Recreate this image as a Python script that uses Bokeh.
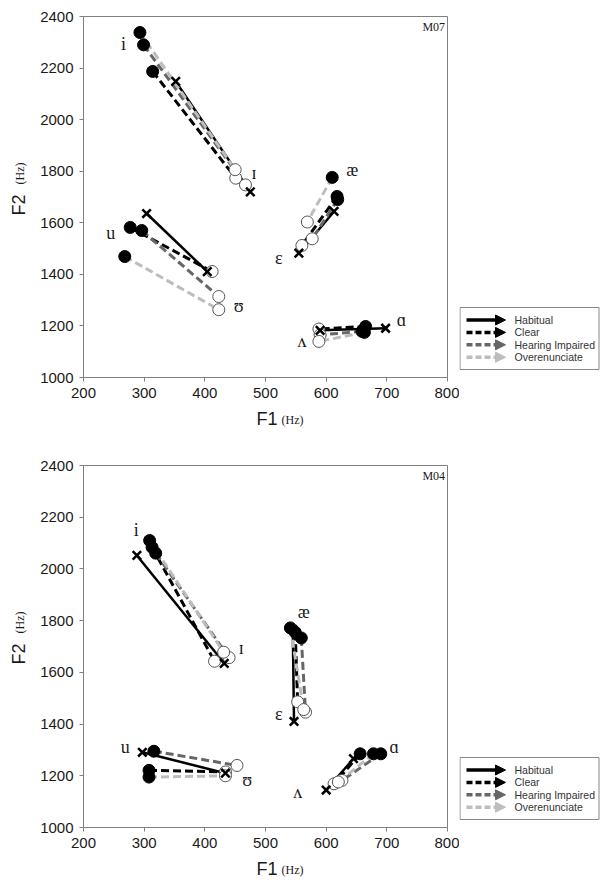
import math
from bokeh.plotting import figure
from bokeh.layouts import column, row
from bokeh.models import Range1d, Label, Arrow, NormalHead, FixedTicker
from bokeh.embed import file_html
from bokeh.resources import INLINE
from bokeh.core.properties import value

# ---------------- data ----------------
x_ticks = [200, 300, 400, 500, 600, 700, 800]
y_ticks = [1000, 1200, 1400, 1600, 1800, 2000, 2200, 2400]
conditions = ["Habitual", "Clear", "Hearing Impaired", "Overenunciate"]
vowel_text = ["i", "ɪ", "u", "ʊ", "æ", "ɛ", "ɑ", "ʌ"]
# vowel pairs (tense -> lax): i-ɪ, u-ʊ, æ-ɛ, ɑ-ʌ

# Speaker M07
m07_hab_f1_a = [352, 304, 613, 698]
m07_hab_f2_a = [2148, 1636, 1644, 1191]
m07_hab_f1_b = [475, 404, 555, 590]
m07_hab_f2_b = [1720, 1411, 1482, 1183]
m07_clr_f1_a = [314, 277, 618, 665]
m07_clr_f2_a = [2187, 1582, 1702, 1198]
m07_clr_f1_b = [451, 412, 560, 588]
m07_clr_f2_b = [1773, 1411, 1512, 1188]
m07_hi_f1_a = [299, 296, 619, 659]
m07_hi_f2_a = [2290, 1570, 1690, 1179]
m07_hi_f1_b = [467, 423, 577, 590]
m07_hi_f2_b = [1747, 1314, 1538, 1165]
m07_ov_f1_a = [293, 268, 610, 663]
m07_ov_f2_a = [2338, 1469, 1776, 1175]
m07_ov_f1_b = [450, 423, 569, 588]
m07_ov_f2_b = [1806, 1263, 1603, 1140]
m07_label_f1 = [266, 481, 245, 456, 643, 522, 724, 560]
m07_label_f2 = [2293, 1792, 1560, 1276, 1806, 1463, 1224, 1140]

# Speaker M04
m04_hab_f1_a = [288, 297, 545, 645]
m04_hab_f2_a = [2052, 1291, 1765, 1266]
m04_hab_f1_b = [432, 434, 547, 600]
m04_hab_f2_b = [1635, 1210, 1410, 1145]
m04_clr_f1_a = [313, 308, 549, 656]
m04_clr_f2_a = [2084, 1221, 1755, 1285]
m04_clr_f1_b = [416, 434, 553, 613]
m04_clr_f2_b = [1643, 1215, 1486, 1169]
m04_hi_f1_a = [319, 316, 559, 690]
m04_hi_f2_a = [2061, 1295, 1733, 1285]
m04_hi_f1_b = [440, 453, 566, 626]
m04_hi_f2_b = [1657, 1240, 1446, 1182]
m04_ov_f1_a = [309, 308, 541, 678]
m04_ov_f2_a = [2110, 1195, 1772, 1285]
m04_ov_f1_b = [431, 434, 563, 620]
m04_ov_f2_b = [1678, 1200, 1456, 1176]
m04_label_f1 = [287, 460, 269, 470, 563, 522, 712, 553]
m04_label_f2 = [2149, 1695, 1311, 1182, 1833, 1440, 1311, 1136]

m07 = [
    (m07_hab_f1_a, m07_hab_f2_a, m07_hab_f1_b, m07_hab_f2_b),
    (m07_clr_f1_a, m07_clr_f2_a, m07_clr_f1_b, m07_clr_f2_b),
    (m07_hi_f1_a, m07_hi_f2_a, m07_hi_f1_b, m07_hi_f2_b),
    (m07_ov_f1_a, m07_ov_f2_a, m07_ov_f1_b, m07_ov_f2_b),
]
m04 = [
    (m04_hab_f1_a, m04_hab_f2_a, m04_hab_f1_b, m04_hab_f2_b),
    (m04_clr_f1_a, m04_clr_f2_a, m04_clr_f1_b, m04_clr_f2_b),
    (m04_hi_f1_a, m04_hi_f2_a, m04_hi_f1_b, m04_hi_f2_b),
    (m04_ov_f1_a, m04_ov_f2_a, m04_ov_f1_b, m04_ov_f2_b),
]

# ---------------- styles ----------------
COLORS = ["#000000", "#000000", "#666666", "#bdbdbd"]
DASHES = ["solid", "8 4", "8 4", "8 4"]
SANS = "Liberation Sans"
SERIF = "'Liberation Serif', 'DejaVu Serif', serif"
AXIS_COLOR = "#808080"
TXT = "#1a1a1a"


def blank(w, h, bt=0, bb=0):
    # helper canvas whose data coordinates equal local pixel coordinates
    f = figure(width=w, height=h, title=None, x_axis_type=None, y_axis_type=None,
               x_range=Range1d(0, w), y_range=Range1d(h - bb, bt),
               output_backend="svg", toolbar_location=None,
               min_border_left=0, min_border_right=0,
               min_border_top=bt, min_border_bottom=bb)
    f.grid.visible = False
    f.outline_line_color = None
    f.background_fill_color = "white"
    f.border_fill_color = "white"
    return f


def panel(h, b_top, b_bottom, data, lab_f1, lab_f2, tag):
    p = figure(width=427, height=h, title=None,
               x_range=Range1d(200, 800), y_range=Range1d(1000, 2400),
               output_backend="svg", toolbar_location=None,
               min_border_left=51, min_border_right=12,
               min_border_top=b_top, min_border_bottom=b_bottom)
    p.grid.visible = False
    p.outline_line_color = AXIS_COLOR
    p.background_fill_color = "white"
    p.border_fill_color = "white"
    p.xaxis.ticker = FixedTicker(ticks=x_ticks)
    p.yaxis.ticker = FixedTicker(ticks=y_ticks)
    for ax in (p.xaxis, p.yaxis):
        ax.axis_line_color = AXIS_COLOR
        ax.major_tick_line_color = AXIS_COLOR
        ax.major_tick_out = 4
        ax.major_tick_in = 0
        ax.minor_tick_line_color = None
        ax.major_label_text_font = SANS
        ax.major_label_text_font_size = "15px"
        ax.major_label_text_color = TXT
    p.xaxis.major_label_standoff = 6
    p.yaxis.major_label_standoff = 6

    for i, (xa, ya, xb, yb) in enumerate(data):
        p.segment(x0=xa, y0=ya, x1=xb, y1=yb, line_color=COLORS[i],
                  line_width=3 if i else 2.5, line_dash=DASHES[i])
    for i, (xa, ya, xb, yb) in enumerate(data):
        if i == 0:
            continue
        p.scatter(x=xb, y=yb, marker="circle", size=12, fill_color="white",
                  line_color="#555555", line_width=1)
        p.scatter(x=xa, y=ya, marker="circle", size=12, fill_color="black",
                  line_color="black")
    xa, ya, xb, yb = data[0]
    p.scatter(x=xa + xb, y=ya + yb, marker="x", size=12, line_color="black",
              line_width=2.5)

    p.text(x=lab_f1, y=lab_f2, text=vowel_text, text_font=value(SERIF),
           text_font_size="18px", text_align="center", text_baseline="middle",
           text_color=TXT)
    p.add_layout(Label(x=796, y=2388, text=tag, text_font=SERIF,
                       text_font_size="12px", text_align="right",
                       text_baseline="top", text_color=TXT))
    return p


def ytitle(h, bt, bb, f2_bottom, hz_bottom):
    f = blank(32, h, bt, bb)
    f.text(x=[18], y=[f2_bottom], text=["F2"], angle=math.pi / 2,
           text_font=value(SANS), text_font_size="18px", text_align="left",
           text_baseline="middle", text_color=TXT)
    f.text(x=[19], y=[hz_bottom], text=["(Hz)"], angle=math.pi / 2,
           text_font=value(SERIF), text_font_size="12px", text_align="left",
           text_baseline="middle", text_color=TXT)
    return f


def xtitle(h, ymid):
    f = blank(600, h)
    f.text(x=[277], y=[ymid], text=["F1"], text_font=value(SANS),
           text_font_size="18px", text_align="right", text_baseline="middle",
           text_color=TXT)
    f.text(x=[281], y=[ymid + 1], text=["(Hz)"], text_font=value(SERIF),
           text_font_size="12px", text_align="left", text_baseline="middle",
           text_color=TXT)
    return f


def legend_fig(h, bt, bb, box_top):
    lf = blank(141, h, bt, bb)
    lf.quad(left=[0.5], right=[139.5], top=[box_top], bottom=[box_top + 62],
            fill_color="white", line_color="#888888", line_width=1)
    rows = [box_top + 12.5 + 12.4 * k for k in range(4)]
    for k in range(4):
        lf.add_layout(Arrow(x_start=7, y_start=rows[k], x_end=46, y_end=rows[k],
                            line_color=COLORS[k], line_width=3.5,
                            line_dash="6 3" if k else "solid",
                            end=NormalHead(size=10, fill_color=COLORS[k],
                                           line_color=COLORS[k])))
    lf.text(x=[55] * 4, y=rows, text=conditions, text_font=value(SANS),
            text_font_size="10.5px", text_baseline="middle",
            text_color="#333333")
    return lf


# top section: panel 0..407 (frame 16..377), x-title strip 407..440
H1, T1, B1 = 407, 16, 30
p1 = panel(H1, T1, B1, m07, m07_label_f1, m07_label_f2, "M07")
y1 = ytitle(H1, T1, B1, 215, 184)
l1 = legend_fig(H1, T1, B1, 307)
x1 = xtitle(33, 11)

# bottom section: panel 440..857 (frame 465..827), x-title strip 857..885
H2, T2, B2 = 417, 25, 30
p2 = panel(H2, T2, B2, m04, m04_label_f1, m04_label_f2, "M04")
y2 = ytitle(H2, T2, B2, 664 - 440, 633 - 440)
l2 = legend_fig(H2, T2, B2, 757 - 440)
x2 = xtitle(28, 11)

layout = column(row(y1, p1, l1, spacing=0), x1,
                row(y2, p2, l2, spacing=0), x2, spacing=0)
open("out.html", "w").write(file_html(layout, INLINE))
